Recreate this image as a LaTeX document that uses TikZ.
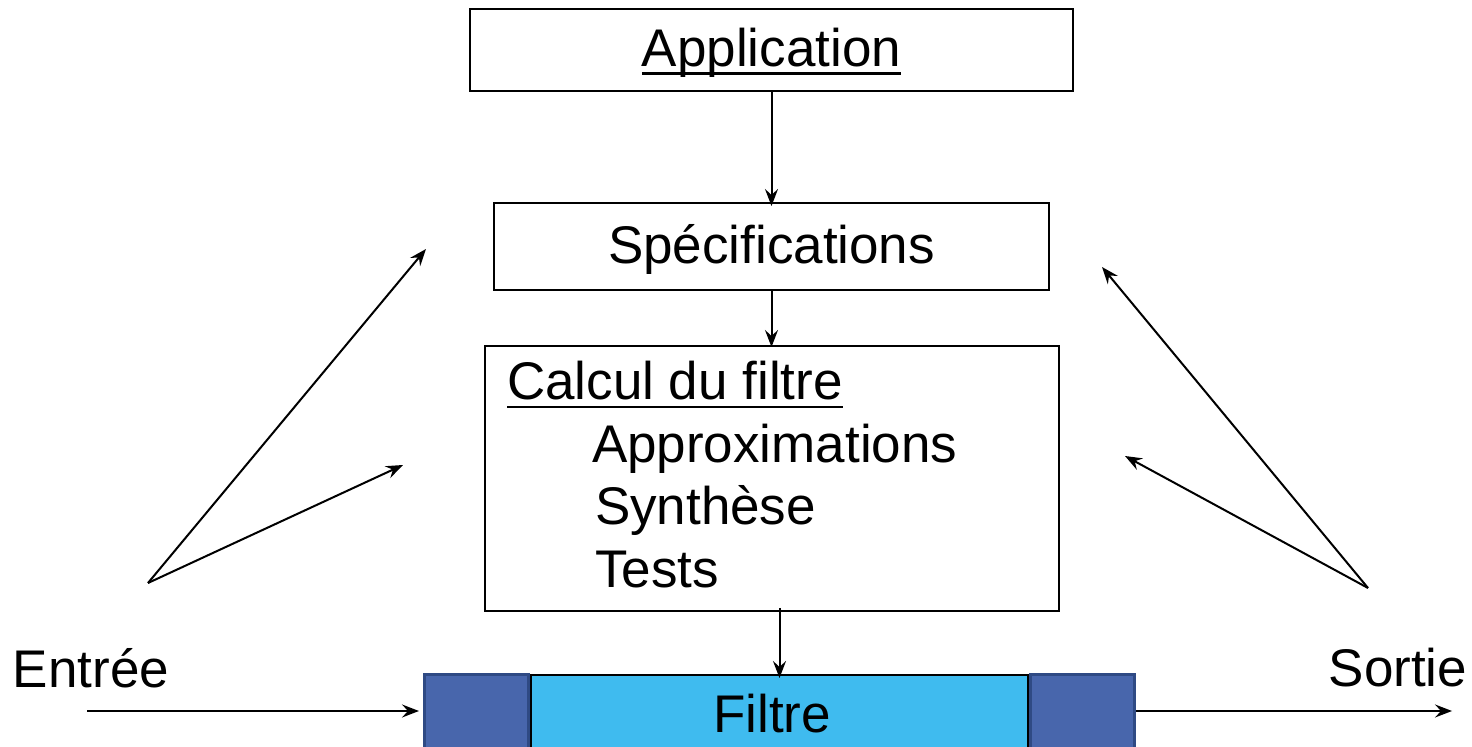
\documentclass[tikz,border=0pt]{standalone}
\usepackage{fontspec}
\setmainfont{Liberation Sans}
\usetikzlibrary{positioning, arrows.meta}

\definecolor{filtreLight}{HTML}{3FBBEF}
\definecolor{filtreDark}{HTML}{4866AC}
\definecolor{filtreEdge}{HTML}{2F4A84}

% thick underline
\newcommand{\souligne}[1]{\setbox0\hbox{#1}\rlap{\vrule height -2.8pt depth 3.9pt width \wd0}\box0}

\begin{document}
\begin{tikzpicture}[x=0.5pt, y=-0.5pt, line width=1pt,
		font=\fontsize{26.5pt}{31pt}\selectfont,
		fleche/.style={-{Stealth[length=8.5pt, width=6.5pt, inset=3pt]}},
		etape/.style={draw, inner sep=0pt, text height=22.5pt, text depth=5.6pt},
		ligne/.style={anchor=base west, inner sep=0pt},
		bout/.style={draw=filtreEdge, line width=1.5pt, fill=filtreDark,
			minimum width=52pt, minimum height=37pt, inner sep=0pt}]
		\useasboundingbox (0,0) rectangle (1472,747);
		
		%Application block
		\node[etape,
		      minimum width = 301.5pt,
		      minimum height = 41pt] (Application) at (771.5,50){\souligne{Application}};
		
		%Specifications block
		\node[etape,
		      minimum width = 277.5pt,
		      minimum height = 43.5pt,
		      below = 55pt of Application] (Spec){Spécifications};
		
		%Calcul block
		\node[etape,
		      minimum width = 287pt,
		      minimum height = 132.5pt,
		      below = 27pt of Spec] (Calcul){};
		\node[ligne] (calculTitre) at (506,400){\souligne{Calcul du filtre}};
		\node[ligne] (approx) at (591,463){Approximations};
		\node[ligne] (synth) at (594,525){Synthèse};
		\node[ligne] (tests) at (594,588){Tests};
		
		%Filtre bar
		\node[draw, fill=filtreLight, inner sep=0pt,
		      minimum width = 248.5pt,
		      minimum height = 37pt] (Filtre) at (779.5,712){};
		\node[bout, left = 0pt of Filtre] (blocG){};
		\node[bout, right = 0pt of Filtre] (blocD){};
		\node (filtreTxt) at (772,714){Filtre};
		
		\draw[fleche](Application.south) -- ([yshift=-2pt]Spec.north);
		\draw[fleche](Spec.south) -- ([yshift=-1pt]Calcul.north);
		\draw[fleche]([yshift=2pt]Filtre.north |- Calcul.south) -- ([yshift=-2pt]Filtre.north);
		
		%Entree / Sortie
		\node (entree) at (91,668){Entrée};
		\node (sortie) at (1398,668){Sortie};
		\coordinate (entreeDebut) at (87,711);
		\coordinate (sortieFin) at (1452,711);
		\draw[fleche](entreeDebut) -- ([xshift=-2pt]entreeDebut -| blocG.west);
		\draw[fleche](blocD.east |- sortieFin) -- (sortieFin);
		
		%Fan arrows
		\coordinate (gauche) at (148,583);
		\coordinate (gaucheHaut) at (426,249);
		\coordinate (gaucheBas) at (403,465);
		\coordinate (droite) at (1368,588);
		\coordinate (droiteHaut) at (1102,267);
		\coordinate (droiteBas) at (1125,456);
		\draw[fleche](gauche) -- (gaucheHaut);
		\draw[fleche](gauche) -- (gaucheBas);
		\draw[fleche](droite) -- (droiteHaut);
		\draw[fleche](droite) -- (droiteBas);
	\end{tikzpicture}
\end{document}
